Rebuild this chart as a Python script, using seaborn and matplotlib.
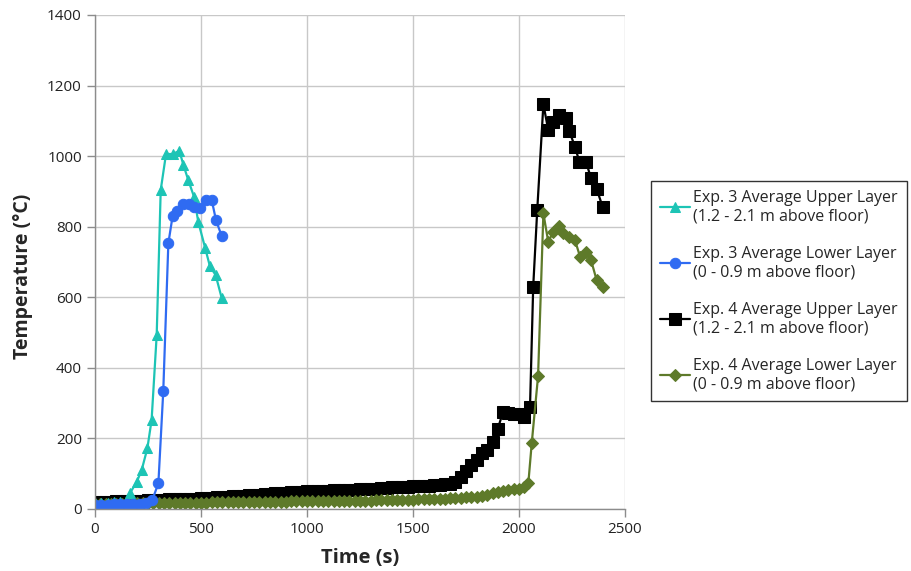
import numpy as np
import pandas as pd
import matplotlib
matplotlib.use("Agg")
import matplotlib.pyplot as plt
import seaborn as sns

# Exp. 3 upper layer (1.2 - 2.1 m)
exp3_up_t = [0, 30, 60, 90, 120, 150, 165, 197, 220, 247, 267, 291, 310, 335,
             366, 398, 417, 440, 467, 487, 519, 542, 569, 598]
exp3_up_T = [18, 18, 18, 19, 20, 25, 45, 77, 110, 172, 252, 493, 904, 1006,
             1006, 1015, 975, 932, 885, 814, 741, 688, 663, 597]

# Exp. 3 lower layer (0 - 0.9 m)
exp3_lo_t = [0, 30, 60, 90, 120, 150, 180, 210, 240, 270, 299, 322, 346, 366,
             388, 417, 445, 468, 495, 524, 550, 571, 598]
exp3_lo_T = [12, 12, 12, 13, 13, 13, 14, 15, 18, 25, 73, 334, 753, 830,
             845, 864, 864, 855, 852, 875, 877, 818, 773]

# Exp. 4 sampled every 25 s up to 2025 s, then the measured tail
exp4_t_base = list(range(0, 2050, 25))
exp4_up_base = [20, 20, 21, 21, 22, 22, 23, 23, 24, 24, 25, 25, 26, 26, 27, 27, 28, 28, 29, 29,
                30, 31, 32, 33, 34, 35, 36, 37, 38, 39, 40, 41, 42, 43, 44, 45, 46, 47, 48, 49,
                50, 51, 51, 52, 52, 53, 53, 54, 55, 55, 56, 57, 58, 58, 59, 60, 61, 61, 62, 63,
                64, 64, 65, 66, 67, 68, 70, 72, 76, 90, 108, 125, 140, 160, 168, 190, 228, 275,
                273, 270, 268, 262]
exp4_lo_base = [14, 14, 15, 15, 15, 15, 16, 16, 16, 16, 16, 17, 17, 17, 17, 17, 18, 18, 18, 18,
                18, 18, 19, 19, 19, 19, 19, 20, 20, 20, 20, 20, 21, 21, 21, 21, 21, 22, 22, 22,
                22, 22, 22, 23, 23, 23, 23, 23, 24, 24, 24, 24, 24, 25, 25, 25, 25, 25, 26, 26,
                26, 27, 27, 28, 28, 29, 29, 30, 31, 32, 33, 33, 34, 37, 41, 45, 49, 52,
                55, 56, 57, 62]

exp4_up_t = exp4_t_base + [2052, 2067, 2086, 2115, 2138, 2162, 2190, 2222, 2237, 2264,
                           2285, 2316, 2340, 2366, 2395]
exp4_up_T = exp4_up_base + [290, 630, 847, 1147, 1074, 1097, 1116, 1107, 1072, 1026,
                            984, 984, 937, 908, 855]

exp4_lo_t = exp4_t_base + [2044, 2060, 2090, 2115, 2138, 2162, 2190, 2209, 2237, 2264,
                           2288, 2316, 2340, 2366, 2395]
exp4_lo_T = exp4_lo_base + [73, 186, 377, 838, 757, 786, 802, 781, 771, 762,
                            715, 729, 705, 649, 630]

labels = ["Exp. 3 Average Upper Layer\n(1.2 - 2.1 m above floor)",
          "Exp. 3 Average Lower Layer\n(0 - 0.9 m above floor)",
          "Exp. 4 Average Upper Layer\n(1.2 - 2.1 m above floor)",
          "Exp. 4 Average Lower Layer\n(0 - 0.9 m above floor)"]

sns.set_style("white")
plt.rcParams["font.family"] = ["Open Sans", "DejaVu Sans"]

fig = plt.figure(figsize=(9.11, 5.71), dpi=100)
ax = fig.add_axes([95 / 911, 1 - 509 / 571, 530 / 911, 494 / 571])

series = [
    (exp3_up_t, exp3_up_T, "^", "#1DC4B5", 7.5),
    (exp3_lo_t, exp3_lo_T, "o", "#2F6BF2", 7.5),
    (exp4_up_t, exp4_up_T, "s", "black", 8),
    (exp4_lo_t, exp4_lo_T, "D", "#5E7A2A", 6.5),
]
for i in [2, 3, 0, 1]:
    t, T, m, c, ms = series[i]
    df = pd.DataFrame({"t": t, "T": T})
    sns.lineplot(data=df, x="t", y="T", ax=ax, sort=False, marker=m, color=c,
                 markersize=ms, markeredgecolor=c, linewidth=1.6, label=labels[i],
                 estimator=None)

h, l = ax.get_legend_handles_labels()
lmap = dict(zip(l, h))
ax.get_legend().remove()

ax.set_xlim(0, 2500)
ax.set_ylim(0, 1400)
ax.set_xticks(np.arange(0, 2501, 500))
ax.set_yticks(np.arange(0, 1401, 200))
ax.grid(True, color="#c8c8c8", linewidth=1.0)
ax.set_axisbelow(True)
for s in ["top", "right"]:
    ax.spines[s].set_visible(False)
for s in ["left", "bottom"]:
    ax.spines[s].set_color("#8c8c8c")
    ax.spines[s].set_linewidth(1.0)
ax.tick_params(axis="both", which="both", direction="out", length=6, width=1,
               color="#8c8c8c", labelsize=11, labelcolor="#222222", left=True, bottom=True)
ax.set_xlabel("Time (s)", fontsize=14.5, fontweight="bold", labelpad=8)
ax.set_ylabel("Temperature (°C)", fontsize=14, fontweight="bold")
ax.yaxis.set_label_coords(-0.117, 0.47)

leg = fig.legend([lmap[x] for x in labels], labels, loc="upper left",
                 bbox_to_anchor=(651 / 911, 1 - 181 / 571), fontsize=11.5,
                 frameon=True, fancybox=False, edgecolor="black", handlelength=1.9,
                 handletextpad=0.2, labelspacing=1.35, borderpad=0.55, borderaxespad=0)
leg.get_frame().set_linewidth(1.0)

fig.savefig("out.png", dpi=100)
